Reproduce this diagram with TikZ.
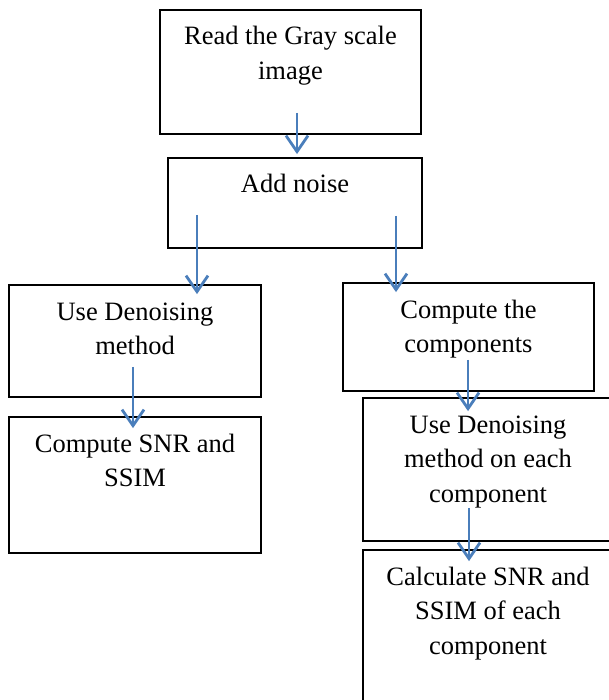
\documentclass[tikz,border=0pt]{standalone}
\usepackage{fontspec}
\setmainfont{Liberation Serif}
\usepackage{xcolor}
\usepackage{tikz}
\usetikzlibrary{calc}
\usetikzlibrary{arrows.meta}
\usetikzlibrary{positioning}

\definecolor{flowblue}{RGB}{74,126,187}
\newcommand{\topbox}[3]{\parbox[t][#2][t]{#1}{\centering\rule{0pt}{35pt}#3}}

\begin{document}
\begin{tikzpicture}[x=1pt, y=-1pt,
    stepbox/.style={draw=black, line width=1.8pt, fill=white, inner sep=0pt,
      font=\fontsize{26.5pt}{34.5pt}\selectfont},
    flow/.style={draw=flowblue, line width=2.8pt,
      -{Straight Barb[length=16pt, width=22pt, line width=2.8pt]}}]
    \useasboundingbox (0,0) rectangle (609,700);
    \clip (0,0) rectangle (609,700);
    \fill[white] (0,0) rectangle (609,700);

    \node[stepbox] (read) at (290.5,72) {\topbox{261pt}{124pt}{Read the Gray scale\\image}};
    \node[stepbox] (noise) at (295,203) {\topbox{254pt}{90pt}{Add noise}};
    \node[stepbox] (denoise) at (135,341) {\topbox{252pt}{112pt}{Use Denoising\\method}};
    \node[stepbox] (snr) at (135,485) {\topbox{252pt}{136pt}{Compute SNR and\\SSIM}};
    \node[stepbox] (comp) at (468.5,337) {\topbox{251pt}{108pt}{Compute the\\components}};
    \node[stepbox] (each) at (488,469.5) {\topbox{250pt}{143pt}{Use Denoising\\method on each\\component}};
    \node[stepbox] (calc) at (488,635) {\topbox{250pt}{170pt}{Calculate SNR and\\SSIM of each\\component}};

    \draw[flow] ($(read.south)+(6.5,-22)$) -- ($(noise.north)+(2,-3)$);
    \draw[flow] ($(noise.south)+(-98,-34)$) -- ($(denoise.north)+(62,10)$);
    \draw[flow] ($(noise.south)+(101,-33)$) -- ($(comp.north)+(-72.5,10)$);
    \draw[flow] ($(denoise.south)+(-2,-31)$) -- ($(snr.north)+(-2,12)$);
    \draw[flow] ($(comp.south)+(-0.5,-32)$) -- ($(each.north)+(-20,14)$);
    \draw[flow] ($(each.south)+(-19,-34)$) -- ($(calc.north)+(-19,12)$);
\end{tikzpicture}
\end{document}
